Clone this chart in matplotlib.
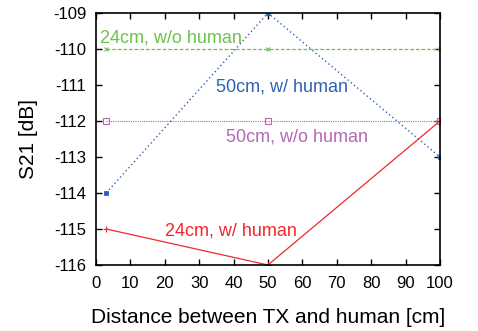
import matplotlib
matplotlib.use("Agg")
import matplotlib.pyplot as plt

plt.rcParams['font.family'] = ['Liberation Sans', 'DejaVu Sans']
plt.rcParams['axes.unicode_minus'] = False

x = [3, 50, 100]
g24_wo = [-110, -110, -110]
b50_w = [-114, -109, -113]
p50_wo = [-112, -112, -112]
r24_w = [-115, -116, -112]

xticks = [0, 10, 20, 30, 40, 50, 60, 70, 80, 90, 100]
yticks = [-116, -115, -114, -113, -112, -111, -110, -109]

fig = plt.figure(figsize=(4.78, 3.31), dpi=100)
ax = fig.add_axes([0.2006, 0.1994, 0.7199, 0.7613])

cg = '#6cc24a'
cb = '#2f62b5'
cp = '#b468b4'
cr = '#f0282d'

ax.plot(x, g24_wo, color=cg, ls=(0, (3, 1.5)), lw=0.9, marker='x', ms=3, mew=0.8)
ax.plot(x, b50_w, color=cb, ls=(0, (1, 2)), lw=1.0, marker='s', ms=2.5, mew=0.6)
ax.plot(x, p50_wo, color=cp, ls=(0, (1, 1)), lw=0.8, marker='s', ms=4, mfc='none', mew=0.8)
ax.plot(x, r24_w, color=cr, ls='-', lw=0.9, marker='+', ms=4, mew=0.8)

fs = 13
ax.text(1.2, -109.83, '24cm, w/o human', color=cg, fontsize=fs, ha='left', va='baseline')
ax.text(34.9, -111.17, '50cm, w/ human', color=cb, fontsize=fs, ha='left', va='baseline')
ax.text(37.7, -112.57, '50cm, w/o human', color=cp, fontsize=fs, ha='left', va='baseline')
ax.text(20.2, -115.19, '24cm, w/ human', color=cr, fontsize=fs, ha='left', va='baseline')

ax.set_xlim(0, 100)
ax.set_ylim(-116, -109)
ax.set_xticks(xticks)
ax.set_yticks(yticks)
ax.tick_params(direction='in', top=True, right=True, labelsize=12, length=4, width=1)
ax.tick_params(axis='y', pad=7)
ax.tick_params(axis='x', pad=8)
for s in ax.spines.values():
    s.set_linewidth(1.2)
ax.set_xlabel('Distance between TX and human [cm]', fontsize=15, labelpad=12)
ax.set_ylabel('S21 [dB]', fontsize=15, labelpad=11)

fig.savefig('out.png', dpi=100)
